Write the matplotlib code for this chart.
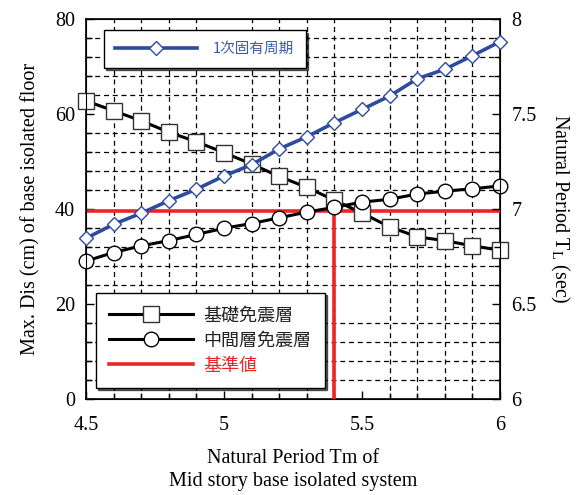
import matplotlib
matplotlib.use("Agg")
import matplotlib.pyplot as plt
from matplotlib.ticker import MultipleLocator
from matplotlib.lines import Line2D

plt.rcParams['font.family'] = ['Liberation Serif', 'DejaVu Serif']
plt.rcParams['mathtext.fontset'] = 'custom'
plt.rcParams['mathtext.rm'] = 'Liberation Serif'
plt.rcParams['mathtext.it'] = 'Liberation Serif'

# ---- data ----
tm = [4.5, 4.6, 4.7, 4.8, 4.9, 5.0, 5.1, 5.2, 5.3, 5.4, 5.5, 5.6, 5.7, 5.8, 5.9, 6.0]
disp_base = [62.8, 60.7, 58.6, 56.2, 54.2, 51.9, 49.5, 46.9, 44.6, 41.9,
             39.2, 36.3, 34.2, 33.4, 32.3, 31.4]
disp_mid = [29.1, 30.9, 32.3, 33.4, 34.7, 36.0, 37.0, 38.2, 39.4, 40.4,
            41.5, 42.1, 43.2, 43.8, 44.3, 44.9]
period_tl = [6.847, 6.921, 6.979, 7.045, 7.105, 7.175, 7.234, 7.317, 7.381, 7.455,
             7.525, 7.595, 7.686, 7.736, 7.807, 7.881]
ref_value = 39.7
ref_tm = 5.4

lbl_base = '基礎免震層'
lbl_mid = '中間層免震層'
lbl_ref = '基準値'
lbl_period = '1次固有周期'

RED = '#EE2424'
BLUE = '#2E4C9E'
CJK = ['Noto Sans CJK JP', 'DejaVu Sans']
FS = 14.5

fig = plt.figure(figsize=(5.77, 4.95), dpi=100)
ax = fig.add_axes([0.149, 0.193, 0.7176, 0.7686])

ax.set_xlim(4.5, 6.0)
ax.set_ylim(0, 80)
ax.xaxis.set_minor_locator(MultipleLocator(0.1))
ax.yaxis.set_major_locator(MultipleLocator(20))
ax.yaxis.set_minor_locator(MultipleLocator(4))
ax.set_xticks([4.5, 5.0, 5.5, 6.0])
ax.set_xticklabels(['4.5', '5', '5.5', '6'])
ax.grid(which='minor', axis='both', color='black', linestyle=(0, (4, 3)), linewidth=0.9)
ax.set_axisbelow(True)
ax.tick_params(which='both', direction='in', labelsize=FS, top=False, right=False, width=1)
ax.tick_params(which='major', length=6)
ax.tick_params(which='minor', length=4)
ax.tick_params(axis='x', pad=12)
ax.tick_params(axis='y', pad=8)
for s in ax.spines.values():
    s.set_linewidth(1.2)

# reference lines
ax.plot([4.5, 6.0], [ref_value, ref_value], color=RED, lw=2.6, zorder=3, solid_capstyle='butt')
ax.plot([ref_tm, ref_tm], [0, ref_value], color=RED, lw=2.6, zorder=3, solid_capstyle='butt')

ax.plot(tm, disp_base, color='black', lw=2.2, marker='s', markersize=11,
        markerfacecolor='white', markeredgecolor='#333333', markeredgewidth=1.0, zorder=4, clip_on=False)
ax.plot(tm, disp_mid, color='black', lw=2.2, marker='o', markersize=10.5,
        markerfacecolor='white', markeredgecolor='black', markeredgewidth=1.0, zorder=4, clip_on=False)

ax.set_ylabel('Max. Dis (cm) of base isolated floor', fontsize=FS, labelpad=10)
ax.set_xlabel('Natural Period Tm of\nMid story base isolated system', fontsize=FS,
              labelpad=10, linespacing=1.25)

ax2 = ax.twinx()
ax2.set_ylim(6, 8)
ax2.yaxis.set_minor_locator(MultipleLocator(0.1))
ax2.set_yticks([6, 6.5, 7, 7.5, 8])
ax2.set_yticklabels(['6', '6.5', '7', '7.5', '8'])
ax2.tick_params(which='both', direction='in', labelsize=FS, width=1, pad=8)
ax2.tick_params(which='major', length=6)
ax2.tick_params(which='minor', length=4)
ax2.plot(tm, period_tl, color=BLUE, lw=2.6, marker='D', markersize=7,
         markerfacecolor='white', markeredgecolor=BLUE, markeredgewidth=1.0, zorder=4, clip_on=False)
ax2.set_ylabel(r'Natural Period T$_{\rm L}$ (sec)', fontsize=FS, rotation=270, labelpad=25)

# legends
h1 = [Line2D([], [], color=BLUE, lw=2.6, marker='D', markersize=7,
             markerfacecolor='white', markeredgecolor=BLUE, markeredgewidth=1.0)]
leg1 = ax2.legend(h1, [lbl_period], loc='upper left', bbox_to_anchor=(0.043, 0.97),
                  prop={'family': CJK, 'size': 10.5}, handlelength=5.6, frameon=True,
                  fancybox=False, borderpad=0.8, borderaxespad=0, handletextpad=1.1,
                  shadow={'color': 'black', 'alpha': 0.6, 'ox': 1.5, 'oy': -1.5})
leg1.get_frame().set_edgecolor('black')
leg1.get_frame().set_linewidth(1.0)
leg1.get_frame().set_alpha(1)
for t in leg1.get_texts():
    t.set_color('#3D5AAE')
leg1.set_zorder(10)

h2 = [Line2D([], [], color='black', lw=2.2, marker='s', markersize=11,
             markerfacecolor='white', markeredgecolor='#333333', markeredgewidth=1.0),
      Line2D([], [], color='black', lw=2.2, marker='o', markersize=10.5,
             markerfacecolor='white', markeredgecolor='black', markeredgewidth=1.0),
      Line2D([], [], color=RED, lw=2.6)]
leg2 = ax.legend(h2, [lbl_base, lbl_mid, lbl_ref], loc='lower left', bbox_to_anchor=(0.024, 0.03),
                 prop={'family': CJK, 'size': 13}, handlelength=4.6, frameon=True,
                 fancybox=False, borderpad=0.75, borderaxespad=0, handletextpad=0.6,
                 labelspacing=0.38, shadow={'color': 'black', 'alpha': 0.6, 'ox': 1.5, 'oy': -1.5})
leg2.get_frame().set_edgecolor('black')
leg2.get_frame().set_linewidth(1.0)
leg2.get_frame().set_alpha(1)
leg2.get_texts()[2].set_color(RED)
for t in leg2.get_texts()[:2]:
    t.set_color('#222222')

fig.savefig('out.png', dpi=100)
